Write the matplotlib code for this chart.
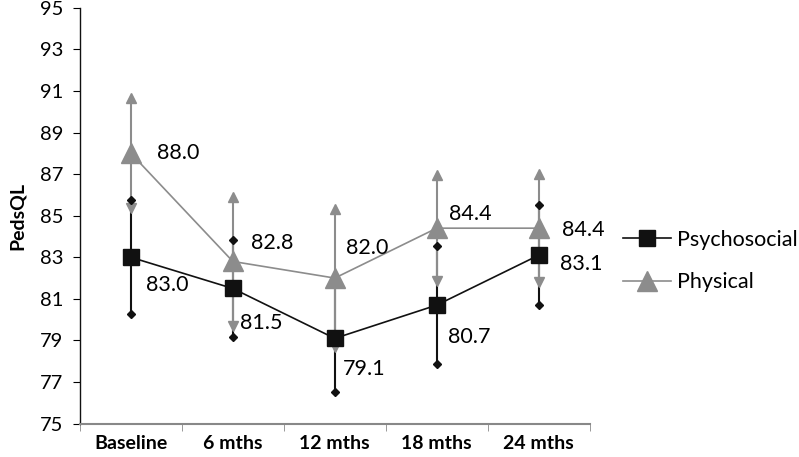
import numpy as np
import matplotlib
matplotlib.use('Agg')
import matplotlib.pyplot as plt

plt.rcParams['font.family'] = ['Lato', 'DejaVu Sans']

# data
timepoints = ['Baseline', '6 mths', '12 mths', '18 mths', '24 mths']
psych_mean = [83.0, 81.5, 79.1, 80.7, 83.1]
psych_sd = [2.75, 2.35, 2.6, 2.85, 2.4]
phys_mean = [88.0, 82.8, 82.0, 84.4, 84.4]
phys_sd = [2.65, 3.1, 3.3, 2.55, 2.6]

# label offsets in points (dx, dy)
psych_off = [(11, -20), (5, -25), (6, -22), (8, -23), (15, -6)]
phys_off = [(19, 0), (13, 13), (8, 22), (9, 10), (17, -1)]

BLACK = '#111111'
GREY = '#8c8c8c'

fig = plt.figure(figsize=(7.99, 4.57), dpi=100)
ax = fig.add_axes([0.100, 0.073, 0.638, 0.910])

x = np.arange(len(timepoints))
pm = np.array(psych_mean); ps = np.array(psych_sd)
hm = np.array(phys_mean); hs = np.array(phys_sd)

# error bars: lines then end markers
ax.vlines(x, pm - ps, pm + ps, color=BLACK, lw=1.5, zorder=2)
ax.vlines(x, hm - hs, hm + hs, color=GREY, lw=1.5, zorder=3)
ax.plot(x, hm + hs, ls='none', marker='^', ms=7.5, color=GREY, zorder=4)
ax.plot(x, hm - hs, ls='none', marker='v', ms=7.5, color=GREY, zorder=4)
ax.plot(x, pm + ps, ls='none', marker='D', ms=4.5, color=BLACK, zorder=5)
ax.plot(x, pm - ps, ls='none', marker='D', ms=4.5, color=BLACK, zorder=5)

# means
ax.plot(x, hm, color=GREY, lw=1.2, marker='^', ms=15, mec=GREY, mfc=GREY,
        label='Physical', zorder=6)
ax.plot(x, pm, color=BLACK, lw=1.2, marker='s', ms=11.5, mec=BLACK, mfc=BLACK,
        label='Psychosocial', zorder=7)

for i in range(len(x)):
    ax.annotate('%.1f' % phys_mean[i], (x[i], hm[i]), xytext=phys_off[i],
                textcoords='offset points', ha='left', va='center', fontsize=15.5, zorder=8)
    ax.annotate('%.1f' % psych_mean[i], (x[i], pm[i]), xytext=psych_off[i],
                textcoords='offset points', ha='left', va='center', fontsize=15.5, zorder=8)

ax.set_xlim(-0.5, len(x) - 0.5)
ax.set_ylim(75, 95)
ax.set_yticks(np.arange(75, 96, 2))
ax.set_xticks(x)
ax.set_xticklabels(timepoints, fontweight='bold', fontsize=14)
ax.set_xticks(np.arange(-0.5, len(x), 1), minor=True)
ax.tick_params(axis='x', which='major', length=0, pad=8)
ax.tick_params(axis='x', which='minor', length=5, direction='out', color='#888888')
ax.tick_params(axis='y', length=5, direction='out', labelsize=14.5, pad=7)

ax.spines['top'].set_visible(False)
ax.spines['right'].set_visible(False)
ax.spines['bottom'].set_color('#888888')
ax.spines['bottom'].set_linewidth(1.5)
ax.spines['left'].set_color(BLACK)
ax.spines['left'].set_linewidth(1.0)

ax.set_ylabel('PedsQL', fontweight='bold', fontsize=14, labelpad=10)

handles, labels = ax.get_legend_handles_labels()
fig.legend(handles[::-1], labels[::-1], loc='center left', bbox_to_anchor=(0.780, 0.429),
           frameon=False, fontsize=15.5, borderpad=0, borderaxespad=0, handlelength=2.2,
           handletextpad=0.3, labelspacing=1.05)

fig.savefig('out.png', dpi=100)
